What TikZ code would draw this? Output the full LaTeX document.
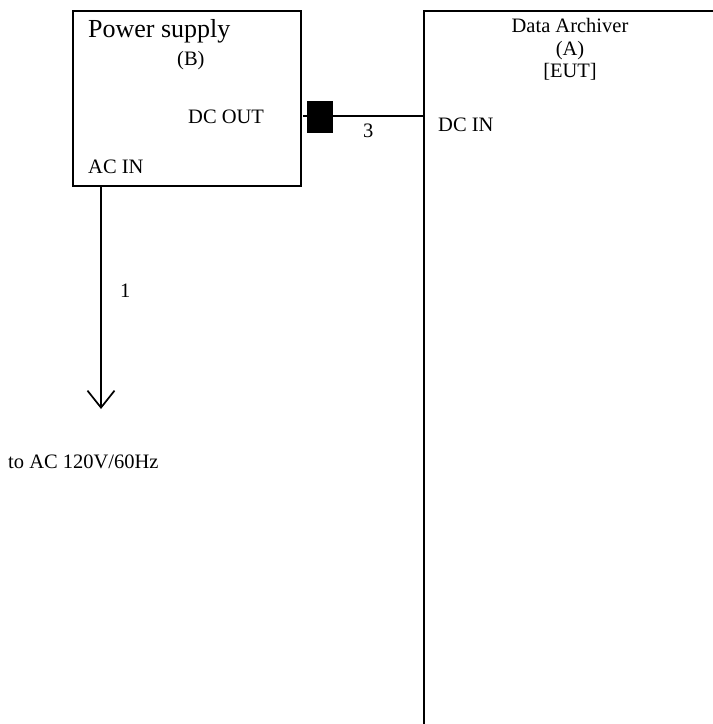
\documentclass[tikz,border=0pt]{standalone}
\usepackage{fontspec}
\setmainfont{Liberation Serif}
\usetikzlibrary{arrows.meta}

\begin{document}
\begin{tikzpicture}[x=1pt, y=-1pt,
            every node/.style={font=\fontsize{20.5}{22.5}\selectfont, inner sep=0pt},
            box/.style={draw, line width=1.7pt, minimum width=#1},
            lbl/.style={anchor=base west}]
        % area: 713 x 724
        \useasboundingbox (0,0) rectangle (713,724);
        \clip (0,0) rectangle (713,724);

        % Apparati
        \node[box=228pt, minimum height=175pt, anchor=north west] (psu) at (72,10) {};
        \node[box=400pt, minimum height=800pt, anchor=north west] (eut) at (423,10) {};

        % Testi alimentatore
        \node[lbl, font=\fontsize{26}{30}\selectfont] (psuname) at (88,37) {Power supply};
        \node[lbl] (psuid) at (177,65) {(B)};
        \node[lbl] (dcout) at (188,123) {DC OUT};
        \node[lbl] (acin) at (88,173) {AC IN};

        % Testi EUT
        \node[align=center, anchor=north] (eutname) at (570,18.5)
            {Data Archiver\\(A)\\{}[EUT]};
        \node[lbl] (dcin) at (438,131) {DC IN};

        % Cavo 3 (DC)
        \coordinate (stub) at (303,116);
        \draw[line width=1.7pt] (stub) -- (eut.west |- stub);
        \node[fill=black, minimum width=26pt, minimum height=32pt] (jack) at (320,117) {};
        \node[lbl] (c3) at (363,137) {3};

        % Cavo 1 (AC)
        \coordinate (acout) at ([xshift=29pt]psu.south west);
        \coordinate (mains) at (101,409);
        \draw[line width=1.7pt, -{Straight Barb[length=17pt, width=27pt]}] (acout) -- (mains);
        \node[lbl] (c1) at (120,297) {1};
        \node[lbl] (supply) at (8,468) {to AC 120V/60Hz};
    \end{tikzpicture}
\end{document}
